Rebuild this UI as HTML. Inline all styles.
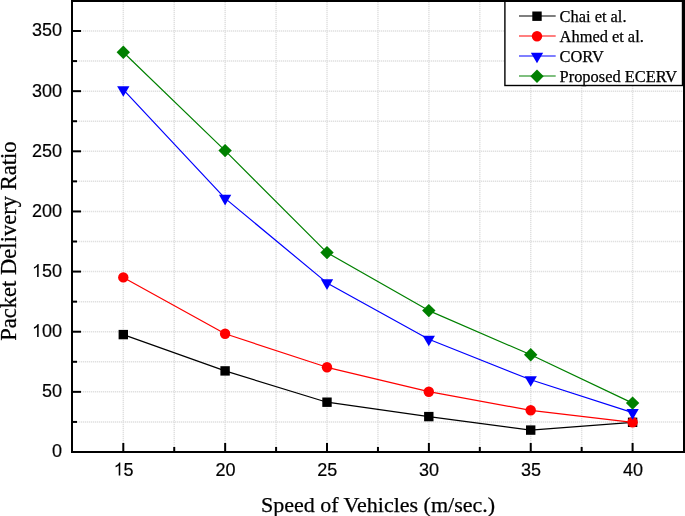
<!DOCTYPE html><html><head><meta charset="utf-8"><style>html,body{margin:0;padding:0;background:#fff;}svg{display:block;will-change:transform;}</style></head><body>
<svg width="685" height="516" viewBox="0 0 685 516">
<rect width="685" height="516" fill="#fff"/>
<g stroke="#e0e0e0" stroke-width="1.5" stroke-dasharray="1.3 0.7"><line x1="123.30" y1="2" x2="123.30" y2="451"/><line x1="174.23" y1="2" x2="174.23" y2="451"/><line x1="225.16" y1="2" x2="225.16" y2="451"/><line x1="276.09" y1="2" x2="276.09" y2="451"/><line x1="327.02" y1="2" x2="327.02" y2="451"/><line x1="377.95" y1="2" x2="377.95" y2="451"/><line x1="428.88" y1="2" x2="428.88" y2="451"/><line x1="479.81" y1="2" x2="479.81" y2="451"/><line x1="530.74" y1="2" x2="530.74" y2="451"/><line x1="581.67" y1="2" x2="581.67" y2="451"/><line x1="632.60" y1="2" x2="632.60" y2="451"/><line x1="73" y1="421.93" x2="683" y2="421.93"/><line x1="73" y1="391.86" x2="683" y2="391.86"/><line x1="73" y1="361.79" x2="683" y2="361.79"/><line x1="73" y1="331.72" x2="683" y2="331.72"/><line x1="73" y1="301.65" x2="683" y2="301.65"/><line x1="73" y1="271.58" x2="683" y2="271.58"/><line x1="73" y1="241.51" x2="683" y2="241.51"/><line x1="73" y1="211.44" x2="683" y2="211.44"/><line x1="73" y1="181.37" x2="683" y2="181.37"/><line x1="73" y1="151.30" x2="683" y2="151.30"/><line x1="73" y1="121.23" x2="683" y2="121.23"/><line x1="73" y1="91.16" x2="683" y2="91.16"/><line x1="73" y1="61.09" x2="683" y2="61.09"/><line x1="73" y1="31.02" x2="683" y2="31.02"/></g>
<polyline points="123.30,334.60 225.10,370.90 327.00,402.20 428.80,416.60 530.70,430.10 632.60,422.30" fill="none" stroke="#000000" stroke-width="1.2" stroke-linejoin="round"/>
<rect x="118.60" y="329.90" width="9.4" height="9.4" fill="#000000"/>
<rect x="220.40" y="366.20" width="9.4" height="9.4" fill="#000000"/>
<rect x="322.30" y="397.50" width="9.4" height="9.4" fill="#000000"/>
<rect x="424.10" y="411.90" width="9.4" height="9.4" fill="#000000"/>
<rect x="526.00" y="425.40" width="9.4" height="9.4" fill="#000000"/>
<rect x="627.90" y="417.60" width="9.4" height="9.4" fill="#000000"/>
<polyline points="123.30,277.40 225.10,333.80 327.00,367.30 428.80,391.70 530.70,410.30 632.60,422.30" fill="none" stroke="#ff0000" stroke-width="1.2" stroke-linejoin="round"/>
<circle cx="123.30" cy="277.40" r="5.2" fill="#ff0000"/>
<circle cx="225.10" cy="333.80" r="5.2" fill="#ff0000"/>
<circle cx="327.00" cy="367.30" r="5.2" fill="#ff0000"/>
<circle cx="428.80" cy="391.70" r="5.2" fill="#ff0000"/>
<circle cx="530.70" cy="410.30" r="5.2" fill="#ff0000"/>
<circle cx="632.60" cy="422.30" r="5.2" fill="#ff0000"/>
<polyline points="123.30,89.70 225.10,198.40 327.00,282.90 428.80,339.30 530.70,379.80 632.60,412.60" fill="none" stroke="#0000ff" stroke-width="1.2" stroke-linejoin="round"/>
<polygon points="117.15,86.17 129.45,86.17 123.30,96.77" fill="#0000ff"/>
<polygon points="218.95,194.87 231.25,194.87 225.10,205.47" fill="#0000ff"/>
<polygon points="320.85,279.37 333.15,279.37 327.00,289.97" fill="#0000ff"/>
<polygon points="422.65,335.77 434.95,335.77 428.80,346.37" fill="#0000ff"/>
<polygon points="524.55,376.27 536.85,376.27 530.70,386.87" fill="#0000ff"/>
<polygon points="626.45,409.07 638.75,409.07 632.60,419.67" fill="#0000ff"/>
<polyline points="123.30,52.20 225.10,150.60 327.00,252.60 428.80,310.60 530.70,354.80 632.60,403.10" fill="none" stroke="#008000" stroke-width="1.2" stroke-linejoin="round"/>
<polygon points="123.30,45.50 130.00,52.20 123.30,58.90 116.60,52.20" fill="#008000"/>
<polygon points="225.10,143.90 231.80,150.60 225.10,157.30 218.40,150.60" fill="#008000"/>
<polygon points="327.00,245.90 333.70,252.60 327.00,259.30 320.30,252.60" fill="#008000"/>
<polygon points="428.80,303.90 435.50,310.60 428.80,317.30 422.10,310.60" fill="#008000"/>
<polygon points="530.70,348.10 537.40,354.80 530.70,361.50 524.00,354.80" fill="#008000"/>
<polygon points="632.60,396.40 639.30,403.10 632.60,409.80 625.90,403.10" fill="#008000"/>
<rect x="504.9" y="-1" width="177.6" height="86.5" fill="#fff" stroke="#000" stroke-width="1.4"/>
<line x1="519" y1="16" x2="555.7" y2="16" stroke="#000000" stroke-width="1.2"/>
<rect x="532.30" y="11.50" width="9.4" height="9.4" fill="#000000"/>
<text x="559.6" y="21.6" font-family="Liberation Serif, serif" font-size="16.4" fill="#000" stroke="#000" stroke-width="0.25">Chai et al.</text>
<line x1="519" y1="36" x2="555.7" y2="36" stroke="#ff0000" stroke-width="1.2"/>
<circle cx="537.00" cy="36.20" r="5.2" fill="#ff0000"/>
<text x="559.6" y="41.6" font-family="Liberation Serif, serif" font-size="16.4" fill="#000" stroke="#000" stroke-width="0.25">Ahmed et al.</text>
<line x1="519" y1="56" x2="555.7" y2="56" stroke="#0000ff" stroke-width="1.2"/>
<polygon points="530.85,52.67 543.15,52.67 537.00,63.27" fill="#0000ff"/>
<text x="559.6" y="61.6" font-family="Liberation Serif, serif" font-size="16.4" fill="#000" stroke="#000" stroke-width="0.25">CORV</text>
<line x1="519" y1="76" x2="555.7" y2="76" stroke="#008000" stroke-width="1.2"/>
<polygon points="537.00,69.50 543.70,76.20 537.00,82.90 530.30,76.20" fill="#008000"/>
<text x="559.6" y="81.6" font-family="Liberation Serif, serif" font-size="16.4" fill="#000" stroke="#000" stroke-width="0.25">Proposed ECERV</text>
<rect x="72" y="1" width="612" height="451" fill="none" stroke="#000" stroke-width="2"/>
<g stroke="#000" stroke-width="2"><line x1="72" y1="452.00" x2="81" y2="452.00"/><line x1="72" y1="421.93" x2="77" y2="421.93"/><line x1="72" y1="391.86" x2="81" y2="391.86"/><line x1="72" y1="361.79" x2="77" y2="361.79"/><line x1="72" y1="331.72" x2="81" y2="331.72"/><line x1="72" y1="301.65" x2="77" y2="301.65"/><line x1="72" y1="271.58" x2="81" y2="271.58"/><line x1="72" y1="241.51" x2="77" y2="241.51"/><line x1="72" y1="211.44" x2="81" y2="211.44"/><line x1="72" y1="181.37" x2="77" y2="181.37"/><line x1="72" y1="151.30" x2="81" y2="151.30"/><line x1="72" y1="121.23" x2="77" y2="121.23"/><line x1="72" y1="91.16" x2="81" y2="91.16"/><line x1="72" y1="61.09" x2="77" y2="61.09"/><line x1="72" y1="31.02" x2="81" y2="31.02"/><line x1="123.30" y1="452" x2="123.30" y2="443"/><line x1="174.23" y1="452" x2="174.23" y2="447"/><line x1="225.16" y1="452" x2="225.16" y2="443"/><line x1="276.09" y1="452" x2="276.09" y2="447"/><line x1="327.02" y1="452" x2="327.02" y2="443"/><line x1="377.95" y1="452" x2="377.95" y2="447"/><line x1="428.88" y1="452" x2="428.88" y2="443"/><line x1="479.81" y1="452" x2="479.81" y2="447"/><line x1="530.74" y1="452" x2="530.74" y2="443"/><line x1="581.67" y1="452" x2="581.67" y2="447"/><line x1="632.60" y1="452" x2="632.60" y2="443"/></g>
<g font-family="Liberation Sans, sans-serif" font-size="18" fill="#000" stroke="#000" stroke-width="0.2"><text x="62" y="457.3" text-anchor="end">0</text><text x="62" y="397.2" text-anchor="end">50</text><path transform="translate(31.97,337.02) scale(0.008789,-0.008789)" d="M763,0L583,0L583,1147Q518,1085 422,1029Q326,973 223,934L223,1108Q407,1195 520,1300Q620,1395 640,1472L763,1472Z"/><text x="62" y="337.0" text-anchor="end">00</text><path transform="translate(31.97,276.88) scale(0.008789,-0.008789)" d="M763,0L583,0L583,1147Q518,1085 422,1029Q326,973 223,934L223,1108Q407,1195 520,1300Q620,1395 640,1472L763,1472Z"/><text x="62" y="276.9" text-anchor="end">50</text><text x="62" y="216.7" text-anchor="end">200</text><text x="62" y="156.6" text-anchor="end">250</text><text x="62" y="96.5" text-anchor="end">300</text><text x="62" y="36.3" text-anchor="end">350</text><path transform="translate(113.59,475.50) scale(0.008789,-0.008789)" d="M763,0L583,0L583,1147Q518,1085 422,1029Q326,973 223,934L223,1108Q407,1195 520,1300Q620,1395 640,1472L763,1472Z"/><text x="123.60" y="475.5">5</text><text x="225.4" y="475.5" text-anchor="middle">20</text><text x="327.3" y="475.5" text-anchor="middle">25</text><text x="429.1" y="475.5" text-anchor="middle">30</text><text x="531.0" y="475.5" text-anchor="middle">35</text><text x="632.9" y="475.5" text-anchor="middle">40</text></g>
<text x="378" y="511.6" text-anchor="middle" font-family="Liberation Serif, serif" font-size="22" fill="#000" stroke="#000" stroke-width="0.25">Speed of Vehicles (m/sec.)</text>
<text transform="translate(16.2,241.1) rotate(-90)" text-anchor="middle" font-family="Liberation Serif, serif" font-size="22.6" fill="#000" stroke="#000" stroke-width="0.25">Packet Delivery Ratio</text>
</svg></body></html>
